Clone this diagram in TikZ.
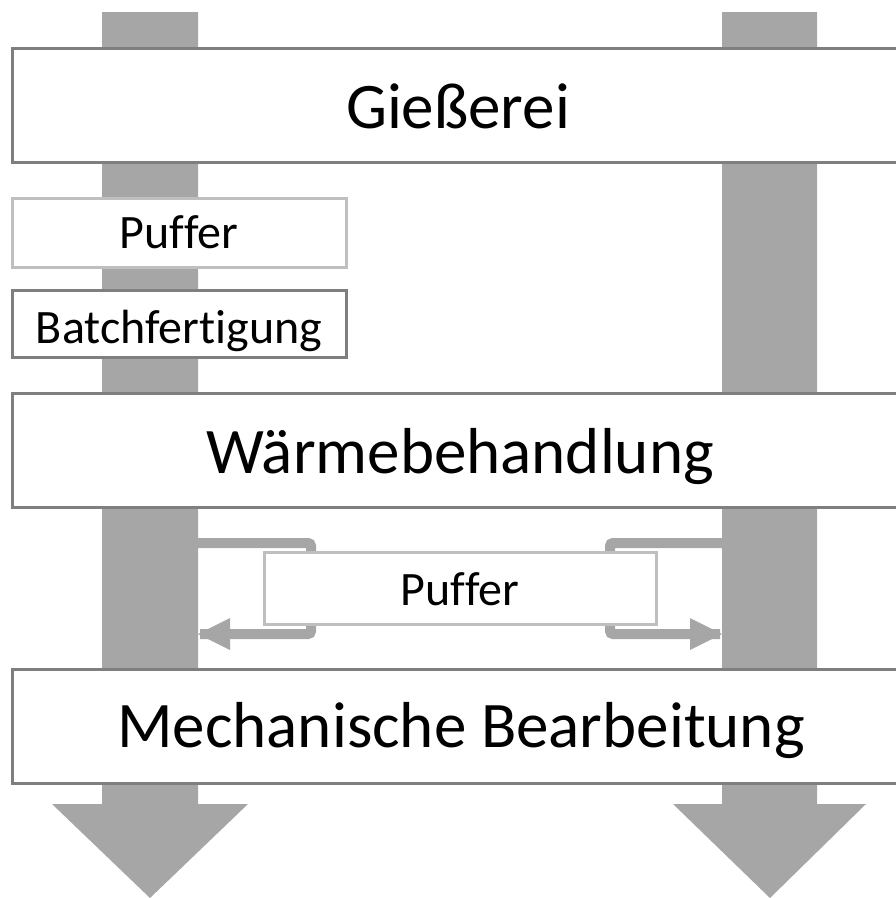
\documentclass[tikz,border=0pt]{standalone}
\usepackage{fontspec}
\setmainfont{Carlito}[Ligatures={NoCommon,NoRare}]
\usetikzlibrary{arrows.meta}
\definecolor{flowgray}{HTML}{A6A6A6}
\definecolor{boxline}{HTML}{7F7F7F}
\definecolor{bufline}{HTML}{BFBFBF}
\tikzset{
  stage/.style={draw=boxline, line width=3pt, fill=white, minimum width=894pt,
    minimum height=114pt, inner sep=0pt},
  bufbox/.style={draw=bufline, line width=3pt, fill=white, inner sep=0pt},
  batchbox/.style={draw=boxline, line width=3pt, fill=white, inner sep=0pt},
  bigtext/.style={anchor=base, inner sep=0pt, font=\fontsize{65}{70}\selectfont},
  smalltext/.style={anchor=base, inner sep=0pt, font=\fontsize{48}{52}\selectfont},
  bypass/.style={draw=flowgray, line width=10pt, rounded corners=3pt},
}
\begin{document}
\begin{tikzpicture}[x=1pt, y=-1pt]
\useasboundingbox (0,0) rectangle (896,898);

% main material flows (two lines, each ending in a wide arrowhead)
\fill[flowgray] (102,12) -- (198,12) -- (198,804) -- (248,804) -- (150,898)
  -- (52,804) -- (102,804) -- cycle;
\fill[flowgray] (722,12) -- (817,12) -- (817,804) -- (866,804) -- (770,898)
  -- (673,804) -- (722,804) -- cycle;

% buffer between heat treatment and machining, with its bypass loops
\node[bufbox, minimum width=392pt, minimum height=72pt] (pufB) at (460,588) {};
\coordinate (lin)  at (198,543);
\coordinate (lout) at (198,634);
\coordinate (rin)  at (722,543);
\coordinate (rout) at (722,634);
\draw[bypass] (lin) -- (311,543) -- (311,588);
\draw[bypass] (311,588) -- (311,634) -- ([xshift=2pt]lout);
\draw[bypass] (rin) -- (610,543) -- (610,588);
\draw[bypass] (610,588) -- (610,634) -- ([xshift=-2pt]rout);
\fill[flowgray] (lout) -- ++(32,-16) -- ++(0,32) -- cycle;
\fill[flowgray] (rout) -- ++(-32,-16) -- ++(0,32) -- cycle;
\node[bufbox, minimum width=392pt, minimum height=72pt] at (pufB) {};
\node[smalltext] (pufB-t) at (460,605) {Puffer};

% process stages
\node[stage] (giess)  at (459,105.5) {};
\node[bigtext] (giess-t) at (458,128) {Gießerei};
\node[bufbox, minimum width=334pt, minimum height=69pt] (pufA) at (179,232.5) {};
\node[smalltext] (pufA-t) at (179,248) {Puffer};
\node[batchbox, minimum width=334pt, minimum height=67pt] (batch) at (179,323.5) {};
\node[smalltext] (batch-t) at (179,343) {Batchfertigung};
\node[stage] (waerme) at (459,450) {};
\node[bigtext] (waerme-t) at (460,473) {Wärmebehandlung};
\node[stage] (mech)   at (459,726) {};
\node[bigtext] (mech-t) at (461,747) {Mechanische Bearbeitung};
\end{tikzpicture}
\end{document}
